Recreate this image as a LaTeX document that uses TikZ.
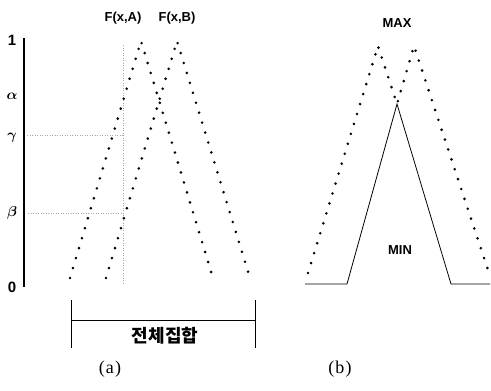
\documentclass[tikz,border=0pt]{standalone}
\usepackage{fontspec}
\setmainfont{Liberation Serif}
\newfontfamily\sansf{Liberation Sans}
\newfontfamily\krfont{Noto Sans CJK KR}
\usetikzlibrary{calc}
\tikzset{
  dotline/.style={line width=2.9pt, line cap=round, dash pattern=on 0pt off 10.4pt},
  gridline/.style={gray!70, line width=0.5pt, dash pattern=on 1pt off 1.5pt},
  lbl/.style={inner sep=0pt, font=\sansf\bfseries\fontsize{13}{13}\selectfont},
  axlbl/.style={inner sep=0pt, font=\sansf\bfseries\fontsize{15}{15}\selectfont},
  grk/.style={inner sep=0pt, font=\fontsize{15}{15}\selectfont\boldmath},
  subcap/.style={inner sep=0pt, font=\fontsize{18}{18}\selectfont\addfontfeature{LetterSpace=6}},
}
\begin{document}
\begin{tikzpicture}[x=1pt,y=-1pt]
\useasboundingbox (0,0) rectangle (491,391);
% axis
\coordinate (axT) at (24,38);
\coordinate (axB) at (24,287);
\draw[line width=1.2pt] (axT) -- (axB);
\node[axlbl] (one) at (12,40) {1};
\node[axlbl] (zero) at (12,287) {0};
\node[grk] (alp) at (12,96) {$\alpha$};
\node[grk] (gam) at (12,138) {$\gamma$};
\node[grk] (bet) at (12,213) {$\beta$};
% grid lines
\coordinate (g1) at (27,135);
\coordinate (g2) at (123,135);
\coordinate (g3) at (28,213);
\coordinate (g4) at (123,213);
\coordinate (v1) at (123,45);
\coordinate (v2) at (123,285);
\draw[gridline] (g1) -- (g2);
\draw[gridline] (g3) -- (g4);
\draw[gridline] (v1) -- (v2);
% triangles (a)
\coordinate (A0) at (70,278);
\coordinate (A1) at (141,41);
\coordinate (A2) at (213,278);
\coordinate (B0) at (106,278);
\coordinate (B1) at (177,41);
\coordinate (B2) at (250,278);
\draw[dotline] (A0) -- (A1) -- (A2);
\draw[dotline] (B0) -- (B1) -- (B2);
\node[lbl] (fa) at (123,18) {F(x,A)};
\node[lbl] (fb) at (177,18) {F(x,B)};
% bracket
\coordinate (k1) at (71,300);
\coordinate (k2) at (71,348);
\coordinate (k3) at (255,300);
\coordinate (k4) at (255,348);
\coordinate (h1) at (71,320);
\coordinate (h2) at (255,320);
\draw[line width=0.8pt] (k1) -- (k2);
\draw[line width=0.8pt] (k3) -- (k4);
\draw[line width=0.8pt] (h1) -- (h2);
\node[inner sep=0pt, font=\krfont\bfseries\fontsize{18}{18}\selectfont] (kr) at (165,336) {전체집합};
\node[subcap] (ca) at (110,369) {(a)};
\node[subcap] (cb) at (340,369) {(b)};
% panel (b)
\coordinate (C0) at (308,273);
\coordinate (C1) at (378,46);
\coordinate (X) at (397,104);
\coordinate (D1) at (414,46);
\coordinate (D2) at (489,273);
\draw[dotline] (C0) -- (C1) -- (X) -- (D1) -- (D2);
\coordinate (S0) at (305,284);
\coordinate (S1) at (347,284);
\coordinate (S2) at (451,284);
\coordinate (S3) at (490,284);
\draw[line width=0.8pt] (S0) -- (S1) -- (X) -- (S2) -- (S3);
\node[lbl] (max) at (397,23) {MAX};
\node[lbl] (min) at (400,250) {MIN};
\end{tikzpicture}
\end{document}
